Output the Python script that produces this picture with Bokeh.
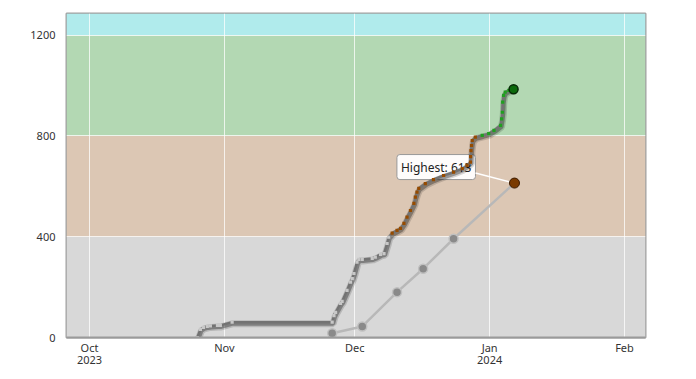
import pandas as pd
from bokeh.plotting import figure
from bokeh.models import ColumnDataSource, Range1d, FixedTicker, Label
from bokeh.embed import file_html
from bokeh.resources import INLINE

# ---- data ----
main_dates = [
    "2023-10-25 19:00", "2023-10-26 12:00", "2023-10-27 05:00", "2023-10-28 02:00",
    "2023-10-28 19:00", "2023-10-30 10:00", "2023-10-31 02:00", "2023-11-02 19:00",
    "2023-11-25 19:00", "2023-11-26 05:00", "2023-11-26 14:00", "2023-11-27 17:00",
    "2023-11-28 02:00", "2023-11-29 05:00", "2023-11-30 00:00", "2023-11-30 10:00",
    "2023-11-30 19:00", "2023-12-01 12:00", "2023-12-01 22:00", "2023-12-02 17:00",
    "2023-12-05 00:00", "2023-12-05 17:00", "2023-12-06 22:00", "2023-12-07 17:00",
    "2023-12-08 10:00", "2023-12-08 19:00", "2023-12-09 14:00", "2023-12-10 17:00",
    "2023-12-11 12:00", "2023-12-12 07:00", "2023-12-13 00:00", "2023-12-13 19:00",
    "2023-12-14 14:00", "2023-12-14 22:00", "2023-12-15 07:00", "2023-12-15 17:00",
    "2023-12-17 05:00", "2023-12-19 02:00", "2023-12-21 10:00", "2023-12-23 17:00",
    "2023-12-25 17:00", "2023-12-26 19:00", "2023-12-27 14:00", "2023-12-27 15:00",
    "2023-12-27 17:00", "2023-12-27 20:00", "2023-12-28 00:00", "2023-12-28 17:00",
    "2023-12-30 07:00", "2023-12-31 19:00", "2024-01-02 00:00", "2024-01-03 12:00",
    "2024-01-03 18:00", "2024-01-03 22:00", "2024-01-04 00:00", "2024-01-04 05:00",
    "2024-01-04 14:00", "2024-01-05 10:00", "2024-01-06 12:00",
]
main_values = [
    0, 32, 40, 44,
    46, 48, 48, 61,
    61, 87, 100, 135,
    143, 187, 220, 234,
    254, 299, 310, 310,
    314, 319, 330, 333,
    373, 398, 414, 425,
    433, 453, 478, 504,
    532, 557, 577, 592,
    611, 627, 643, 656,
    670, 683, 696, 718,
    742, 762, 782, 795,
    802, 809, 822, 842,
    868, 894, 934, 961,
    974, 981, 985,
]

goal_dates = ["2023-11-25 19:00", "2023-12-02 17:00", "2023-12-10 17:00",
              "2023-12-16 17:00", "2023-12-23 17:00", "2024-01-06 17:00"]
goal_values = [17, 44, 180, 273, 392, 613]

band_bottoms = [0, 400, 800, 1200]
band_tops = [400, 800, 1200, 1286]
band_colors = ["#d8d8d8", "#dcc7b4", "#b3d8b3", "#b0ebec"]

zone_limits = [400, 800]
zone_colors = ["#c8c8c8", "#964b00", "#1fa01f"]

month_ticks = ["2023-10-01", "2023-11-01", "2023-12-01", "2024-01-01", "2024-02-01"]
month_labels = ["Oct\n2023", "Nov", "Dec", "Jan\n2024", "Feb"]
y_ticks = [0, 400, 800, 1200]

x_start, x_end = "2023-09-25 17:00", "2024-02-05 20:00"
y_start, y_end = 0, 1286


def ms(s):
    return pd.Timestamp(s).timestamp() * 1000.0


FONT = "Noto Sans"
FRAME_W, FRAME_H = 579, 324

p = figure(frame_width=FRAME_W, frame_height=FRAME_H, x_axis_type="datetime",
           x_range=Range1d(ms(x_start), ms(x_end)), y_range=Range1d(y_start, y_end),
           output_backend="svg", toolbar_location=None,
           min_border_left=66, min_border_right=35, min_border_top=13, min_border_bottom=30)
p.background_fill_color = "#d8d8d8"
p.border_fill_color = "white"
p.outline_line_color = "#a0a0a0"
p.outline_line_width = 2

# bands
band_src = ColumnDataSource(dict(left=[ms(x_start)] * 4, right=[ms(x_end)] * 4,
                                 bottom=band_bottoms, top=band_tops, color=band_colors))
p.quad(left="left", right="right", bottom="bottom", top="top", color="color",
       line_color=None, source=band_src, level="image")

# grid
p.xgrid.ticker = FixedTicker(ticks=[ms(t) for t in month_ticks])
p.ygrid.ticker = FixedTicker(ticks=y_ticks)
p.grid.grid_line_color = "white"
p.grid.grid_line_alpha = 0.75
p.grid.grid_line_width = 1

# axes
p.xaxis.ticker = FixedTicker(ticks=[ms(t) for t in month_ticks])
p.xaxis.major_label_overrides = {ms(t): l for t, l in zip(month_ticks, month_labels)}
p.yaxis.ticker = FixedTicker(ticks=y_ticks)
for ax in (p.xaxis[0], p.yaxis[0]):
    ax.major_tick_line_color = None
    ax.minor_tick_line_color = None
    ax.major_tick_out = 0
    ax.major_tick_in = 0
    ax.minor_tick_out = 0
    ax.minor_tick_in = 0
    ax.major_label_text_font = FONT
    ax.major_label_text_font_size = "11px"
    ax.major_label_text_color = "#333333"
p.yaxis.axis_line_color = None
p.yaxis.major_label_standoff = 11
p.xaxis.axis_line_color = "#9a9a9a"
p.xaxis.axis_line_width = 2
p.xaxis.major_label_standoff = 2
p.xaxis.major_label_text_line_height = 0.8

# tooltip-like label (drawn under the series)
gx = [ms(d) for d in goal_dates]
ms_per_px = (ms(x_end) - ms(x_start)) / FRAME_W
val_per_px = (y_end - y_start) / FRAME_H
p.segment(x0=[gx[-1] - 39 * ms_per_px], y0=[goal_values[-1] + 10 * val_per_px],
          x1=[gx[-1]], y1=[goal_values[-1]], line_color="white", line_width=1.5)
tip = Label(x=gx[-1], y=goal_values[-1], x_offset=-39, y_offset=16,
            text="Highest: 613", text_font=FONT, text_font_size="12px",
            text_color="#222222", text_align="right", text_baseline="middle",
            background_fill_color="white", background_fill_alpha=0.95,
            border_line_color="#999999", border_line_width=1, padding=4,
            border_radius=3, level="underlay")
p.add_layout(tip)

# goal series
goal_src = ColumnDataSource(dict(x=gx, y=goal_values))
p.line("x", "y", source=goal_src, line_color="#b8b8b8", line_width=2.5)
p.scatter(gx[:-1], goal_values[:-1], size=9, fill_color="#8a8a8a",
          line_color="#c0c0c0", line_width=1.5)
p.scatter(gx[-1:], goal_values[-1:], size=10, fill_color="#7a3a00",
          line_color="#3a1a00", line_width=1)

# main series
mx = [ms(d) for d in main_dates]


def zone(v):
    if v < zone_limits[0]:
        return zone_colors[0]
    if v < zone_limits[1]:
        return zone_colors[1]
    return zone_colors[2]


main_src = ColumnDataSource(dict(x=mx, y=main_values,
                                 c=[zone(v) for v in main_values]))
shadow_src = ColumnDataSource(dict(x=[v + 1.0 * ms_per_px for v in mx],
                                   y=[v - 1.5 * val_per_px for v in main_values]))
p.line("x", "y", source=shadow_src, line_color="black", line_alpha=0.15, line_width=7)
p.line("x", "y", source=shadow_src, line_color="black", line_alpha=0.30, line_width=4)
p.line("x", "y", source=main_src, line_color="#737373", line_width=2.5)
p.scatter("x", "y", source=main_src, marker="square", size=3.2, fill_color="c",
          line_color=None)
p.scatter(mx[-1:], main_values[-1:], size=9, fill_color="#0c6a0c",
          line_color="#062a06", line_width=1.5)

open("out.html", "w").write(file_html(p, INLINE))
